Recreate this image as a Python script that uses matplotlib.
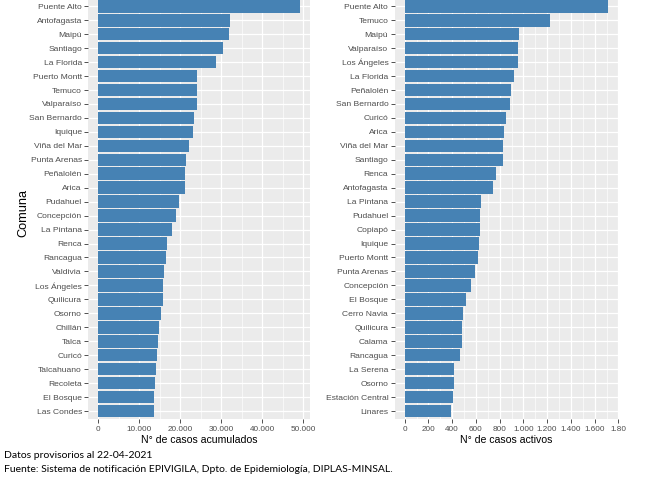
import matplotlib
matplotlib.use("Agg")
import matplotlib.pyplot as plt
from matplotlib.ticker import FixedLocator, FuncFormatter

comunas_acum = ["Puente Alto", "Antofagasta", "Maipú", "Santiago", "La Florida",
                "Puerto Montt", "Temuco", "Valparaíso", "San Bernardo", "Iquique",
                "Viña del Mar", "Punta Arenas", "Peñalolén", "Arica", "Pudahuel",
                "Concepción", "La Pintana", "Renca", "Rancagua", "Valdivia",
                "Los Ángeles", "Quilicura", "Osorno", "Chillán", "Talca",
                "Curicó", "Talcahuano", "Recoleta", "El Bosque", "Las Condes"]
casos_acum = [49100, 32200, 31800, 30500, 28800,
              24150, 24100, 24050, 23300, 23200,
              22200, 21400, 21250, 21200, 19800,
              18900, 18000, 16800, 16600, 16000,
              15900, 15850, 15300, 14700, 14600,
              14200, 14000, 13950, 13700, 13650]

comunas_act = ["Puente Alto", "Temuco", "Maipú", "Valparaíso", "Los Ángeles",
               "La Florida", "Peñalolén", "San Bernardo", "Curicó", "Arica",
               "Viña del Mar", "Santiago", "Renca", "Antofagasta", "La Pintana",
               "Pudahuel", "Copiapó", "Iquique", "Puerto Montt", "Punta Arenas",
               "Concepción", "El Bosque", "Cerro Navia", "Quilicura", "Calama",
               "Rancagua", "La Serena", "Osorno", "Estación Central", "Linares"]
casos_act = [1715, 1224, 963, 952, 951,
             923, 895, 887, 856, 834,
             831, 828, 769, 747, 646,
             633, 632, 629, 618, 595,
             556, 519, 494, 484, 483,
             466, 418, 413, 407, 390]

ticks_acum = [0, 10000, 20000, 30000, 40000, 50000]
ticks_act = [0, 200, 400, 600, 800, 1000, 1200, 1400, 1600, 1800]
ticklabels_act = ["0", "200", "400", "600", "800", "1.000", "1.200", "1.400", "1.600", "1.80"]

title_acum = "N° de casos acumulados"
title_act = "N° de casos activos"
ylabel = "Comuna"
footer1 = "Datos provisorios al 22-04-2021"
footer2 = "Fuente: Sistema de notificación EPIVIGILA, Dpto. de Epidemiología, DIPLAS-MINSAL."

plt.rcParams['font.family'] = ['Liberation Sans', 'DejaVu Sans']

W, H = 650, 487
fig = plt.figure(figsize=(6.5, 4.87), dpi=100)

def frac_rect(x0, x1, ytop, ybot):
    return [x0 / W, 1 - ybot / H, (x1 - x0) / W, (ybot - ytop) / H]

def thousands(v, pos=None):
    return f"{int(v):,}".replace(",", ".")

def panel(rect, names, vals, ticks, labels, xtitle):
    ax = fig.add_axes(rect)
    ax.set_facecolor("#EBEBEB")
    n = len(names)
    ypos = list(range(n))
    ax.barh(ypos, vals, height=0.9, color="#4682B4", zorder=3)
    vmax = max(vals)
    ax.set_xlim(-0.05 * vmax, 1.05 * vmax)
    ax.set_ylim(n - 1 + 0.6, -0.6)
    ax.set_yticks(ypos)
    ax.set_yticklabels(names)
    ax.xaxis.set_major_locator(FixedLocator(ticks))
    minors = [(ticks[i] + ticks[i + 1]) / 2 for i in range(len(ticks) - 1)]
    if ticks[-1] + (ticks[1] - ticks[0]) / 2 < 1.05 * vmax:
        minors.append(ticks[-1] + (ticks[1] - ticks[0]) / 2)
    ax.xaxis.set_minor_locator(FixedLocator(minors))
    if labels is None:
        ax.xaxis.set_major_formatter(FuncFormatter(thousands))
    else:
        ax.set_xticklabels(labels)
    ax.grid(which="major", axis="both", color="white", linewidth=0.9, zorder=1)
    ax.grid(which="minor", axis="x", color="white", linewidth=0.45, zorder=1)
    ax.set_axisbelow(True)
    for s in ax.spines.values():
        s.set_visible(False)
    ax.tick_params(axis="y", which="major", length=3, width=0.6, color="#333333",
                   labelsize=6.1, labelcolor="#4D4D4D", pad=1.5)
    ax.tick_params(axis="x", which="major", length=3, width=0.6, color="#333333",
                   labelsize=5.9, labelcolor="#4D4D4D", pad=1.8)
    ax.tick_params(axis="x", which="minor", length=0)
    ax.set_xlabel(xtitle, fontsize=7.6, color="black", labelpad=1.5)
    return ax

ax1 = panel(frac_rect(88.2, 309.7, -2.1, 419.4), comunas_acum, casos_acum,
            ticks_acum, None, title_acum)
ax2 = panel(frac_rect(394.5, 618.5, -2.1, 419.4), comunas_act, casos_act,
            ticks_act, ticklabels_act, title_act)

fig.text(23.5 / W, 1 - 213 / H, ylabel, fontsize=9.2, color="black",
         rotation=90, ha="center", va="center")

fig.text(4 / W, 1 - 455 / H, footer1, fontsize=7.45, family=["Lato", "DejaVu Sans"],
         va="center", ha="left", color="black")
fig.text(4 / W, 1 - 469.5 / H, footer2, fontsize=7.45, family=["Lato", "DejaVu Sans"],
         va="center", ha="left", color="black")

fig.savefig("out.png", dpi=100)
